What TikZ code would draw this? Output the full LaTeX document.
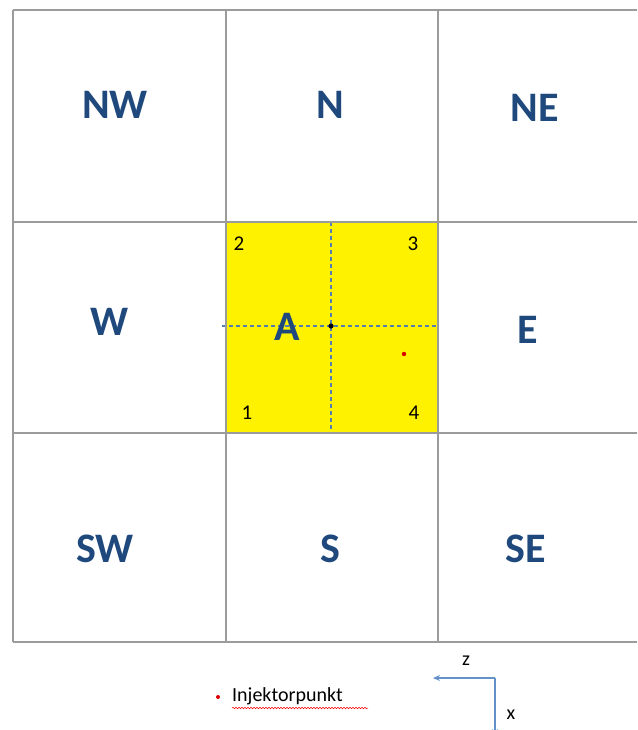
\documentclass[tikz,border=0pt]{standalone}
\usepackage{fontspec}
\setmainfont{Carlito}
\usetikzlibrary{arrows.meta,decorations.pathmorphing}
\definecolor{lbl}{RGB}{31,73,125}
\definecolor{gridc}{RGB}{155,155,155}
\definecolor{dashc}{RGB}{85,125,175}
\definecolor{axc}{RGB}{100,145,200}
\begin{document}
\begin{tikzpicture}[x=1pt,y=-1pt,
  cell/.style={font=\fontsize{42}{42}\selectfont\bfseries, text=lbl, inner sep=0pt},
  num/.style={font=\fontsize{21}{21}\selectfont, text=black, inner sep=0pt},
  small/.style={font=\fontsize{20}{20}\selectfont, text=black, inner sep=0pt},
  gridline/.style={draw=gridc, line width=1.6pt},
  dashline/.style={draw=dashc, line width=1.1pt, dash pattern=on 4pt off 3pt},
  axis/.style={draw=axc, line width=1.2pt, -{Stealth[length=7pt,width=6pt]}}]
\useasboundingbox (0,0) rectangle (637,730);
\clip (0,0) rectangle (637,730);
\fill[white] (0,0) rectangle (637,730);
% yellow centre cell
\fill[yellow] (226,222) rectangle (438,433);
% dashed cross
\draw[dashline] (222,326) -- (438,326);
\draw[dashline] (331,222) -- (331,433);
% grid
\draw[gridline] (13,10) -- (650,10);
\draw[gridline] (13,222) -- (650,222);
\draw[gridline] (13,433) -- (650,433);
\draw[gridline] (13,642) -- (650,642);
\draw[gridline] (13,10) -- (13,642);
\draw[gridline] (226,10) -- (226,642);
\draw[gridline] (438,10) -- (438,642);
% labels
\node[cell] (nw) at (115,105) {NW};
\node[cell] (n) at (330,105) {N};
\node[cell] (ne) at (535,108) {NE};
\node[cell] (w) at (110,322) {W};
\node[cell] (a) at (287,327) {A};
\node[cell] (e) at (528,330) {E};
\node[cell] (sw) at (105,549) {SW};
\node[cell] (s) at (330,549) {S};
\node[cell] (se) at (526,549) {SE};
% corner numbers
\node[num] (c2) at (239,244) {2};
\node[num] (c3) at (413,244) {3};
\node[num] (c1) at (247,413) {1};
\node[num] (c4) at (414,413) {4};
% centre and injector points
\fill[black] (331,326) circle (2.6pt);
\fill[red!85!black] (404,354) circle (2.2pt);
% legend
\fill[red!85!black] (218,697) circle (2pt);
\node[small, anchor=base west] (inj) at (232,701) {Injektorpunkt};
\draw[red, line width=0.5pt, decorate, decoration={snake, amplitude=0.8pt, segment length=3pt}] (232,708) -- (368,708);
% axes
\coordinate (o) at (495,678);
\coordinate (zend) at (433,678);
\coordinate (xend) at (495,736);
\draw[axis] (o) -- (zend);
\draw[axis] (o) -- (xend);
\node[small] (z) at (466,661) {z};
\node[small] (x) at (511,715) {x};
\end{tikzpicture}
\end{document}
